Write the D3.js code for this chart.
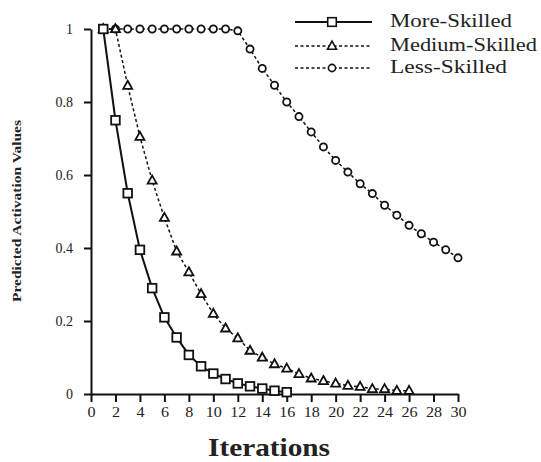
<!DOCTYPE html>
<html>
<head>
<meta charset="utf-8">
<script src="https://cdn.jsdelivr.net/npm/d3@7"></script>
<style>
  body { margin: 0; background: #fff; }
  svg { font-family: "Liberation Serif", "Times New Roman", serif; }
</style>
</head>
<body>
<svg width="541" height="462"></svg>
<script>
// series names
var seriesNames = ["More-Skilled", "Medium-Skilled", "Less-Skilled"];

// iterations per series
var moreIter = [1,2,3,4,5,6,7,8,9,10,11,12,13,14,15,16];
var mediumIter = [1,2,3,4,5,6,7,8,9,10,11,12,13,14,15,16,17,18,19,20,21,22,23,24,25,26];
var lessIter = [1,2,3,4,5,6,7,8,9,10,11,12,13,14,15,16,17,18,19,20,21,22,23,24,25,26,27,28,29,30];

// predicted activation values
var moreVals = [1, 0.75, 0.55, 0.395, 0.29, 0.21, 0.155, 0.107, 0.076, 0.056, 0.041, 0.029, 0.021, 0.015, 0.009, 0.005];
var mediumVals = [1, 1, 0.845, 0.705, 0.585, 0.483, 0.391, 0.334, 0.274, 0.22, 0.18, 0.153, 0.119, 0.1, 0.082,
                  0.07, 0.055, 0.043, 0.036, 0.029, 0.023, 0.02, 0.014, 0.014, 0.009, 0.009];
var lessVals = [1, 1, 1, 1, 1, 1, 1, 1, 1, 1, 1, 0.995, 0.945, 0.892, 0.846, 0.8, 0.76, 0.718, 0.677, 0.64,
                0.608, 0.576, 0.549, 0.517, 0.49, 0.462, 0.439, 0.416, 0.395, 0.373];

// tick labels
var xTicks = [0,2,4,6,8,10,12,14,16,18,20,22,24,26,28,30];
var yTicks = [0, 0.2, 0.4, 0.6, 0.8, 1];

var svg = d3.select("svg");

var x = d3.scaleLinear().domain([0, 30]).range([91, 458]);
var y = d3.scaleLinear().domain([0, 1]).range([394, 29]);

function pairs(xs, vs) {
    return xs.map(function(d, i) { return [d, vs[i]]; });
}

var series = [
    { name: seriesNames[2], pts: pairs(lessIter, lessVals), dash: "3,2.5", width: 1.5, shape: "circle" },
    { name: seriesNames[1], pts: pairs(mediumIter, mediumVals), dash: "3,2.5", width: 1.5, shape: "triangle" },
    { name: seriesNames[0], pts: pairs(moreIter, moreVals), dash: null, width: 2, shape: "square" }
];

// axes
var xAxis = svg.append("g")
    .attr("transform", "translate(0," + y(0) + ")")
    .call(d3.axisBottom(x).tickValues(xTicks).tickSize(8).tickSizeOuter(0).tickPadding(5));

var yAxis = svg.append("g")
    .attr("transform", "translate(" + x(0) + ",0)")
    .call(d3.axisLeft(y).tickValues(yTicks).tickSize(7).tickSizeOuter(0).tickPadding(11)
        .tickFormat(function(d) { return d === 0 || d === 1 ? d : d3.format(".1f")(d); }));

[xAxis, yAxis].forEach(function(a) {
    a.attr("font-family", null);
    a.select(".domain").attr("stroke", "#111").attr("stroke-width", 2);
    a.selectAll(".tick line").attr("stroke", "#111").attr("stroke-width", 2);
    a.selectAll(".tick text")
        .attr("fill", "#222")
        .style("font-family", "'Liberation Serif', serif")
        .style("font-size", "14px");
});
xAxis.selectAll(".tick text").attr("transform", "scale(1.15,1)");

/* lines */
var line = d3.line()
    .x(function(d) { return x(d[0]); })
    .y(function(d) { return y(d[1]); });

series.forEach(function(s) {
    svg.append("path")
        .datum(s.pts)
        .attr("d", line)
        .attr("fill", "none")
        .attr("stroke", "#111")
        .attr("stroke-width", s.width)
        .attr("stroke-dasharray", s.dash);
});

// markers
function drawMarker(g, shape, cx, cy) {
    if (shape === "square") {
        g.append("rect").attr("x", cx - 4.3).attr("y", cy - 4.3).attr("width", 8.6).attr("height", 8.6);
    } else if (shape === "triangle") {
        g.append("path").attr("d", "M" + cx + "," + (cy - 4.8) + "L" + (cx + 4.5) + "," + (cy + 3.2) + "L" + (cx - 4.5) + "," + (cy + 3.2) + "Z");
    } else {
        g.append("circle").attr("cx", cx).attr("cy", cy).attr("r", 3.6);
    }
}

series.forEach(function(s) {
    var g = svg.append("g").attr("fill", "#fff").attr("stroke", "#111").attr("stroke-width", 1.8);
    s.pts.forEach(function(p) { drawMarker(g, s.shape, x(p[0]), y(p[1])); });
});

// legend
var legendRows = [
    { name: seriesNames[0], shape: "square", dash: null, width: 2, y: 22, len: 122 },
    { name: seriesNames[1], shape: "triangle", dash: "3,2.5", width: 1.5, y: 46, len: 147 },
    { name: seriesNames[2], shape: "circle", dash: "3,2.5", width: 1.5, y: 68, len: 117 }
];

var legend = svg.append("g");
legendRows.forEach(function(r) {
    legend.append("line")
        .attr("x1", 295).attr("x2", 372).attr("y1", r.y).attr("y2", r.y)
        .attr("stroke", "#111").attr("stroke-width", r.width)
        .attr("stroke-dasharray", r.dash);
    var mg = legend.append("g").attr("fill", "#fff").attr("stroke", "#111").attr("stroke-width", 1.6);
    drawMarker(mg, r.shape, 332, r.y);
    legend.append("text")
        .attr("x", 390).attr("y", r.y + 5)
        .attr("textLength", r.len)
        .attr("lengthAdjust", "spacingAndGlyphs")
        .style("font-size", "18px")
        .attr("fill", "#222")
        .text(r.name);
});

// axis titles
svg.append("text")
    .attr("x", 269).attr("y", 456)
    .attr("text-anchor", "middle")
    .attr("textLength", 122)
    .attr("lengthAdjust", "spacingAndGlyphs")
    .style("font-size", "25px")
    .style("font-weight", "bold")
    .attr("fill", "#222")
    .text("Iterations");

svg.append("text")
    .attr("transform", "translate(21,211) rotate(-90)")
    .attr("text-anchor", "middle")
    .attr("textLength", 182)
    .attr("lengthAdjust", "spacingAndGlyphs")
    .style("font-size", "12.5px")
    .style("font-weight", "bold")
    .attr("fill", "#222")
    .text("Predicted Activation Values");
</script>
</body>
</html>
